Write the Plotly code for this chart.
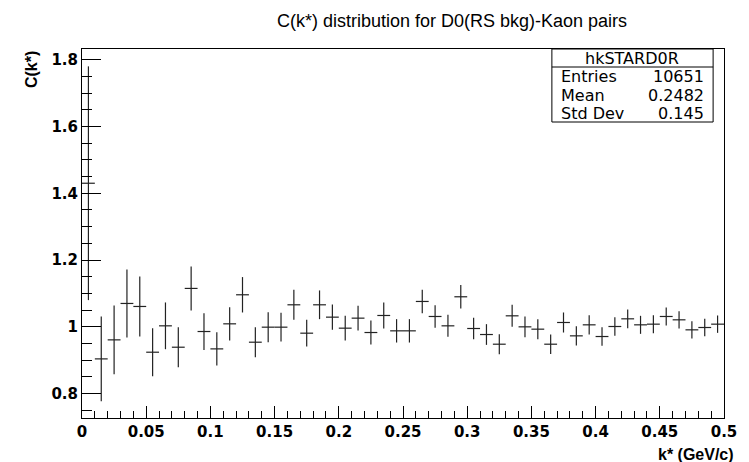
import plotly.graph_objects as go

# ---- data ----
k_star = [0.005 + 0.01 * i for i in range(50)]
c_vals = [1.43, 0.904, 0.961, 1.070, 1.061, 0.924, 1.003, 0.939, 1.115, 0.986,
          0.934, 1.009, 1.096, 0.954, 0.999, 0.999, 1.066, 0.981, 1.066, 1.029,
          0.996, 1.026, 0.983, 1.034, 0.988, 0.988, 1.076, 1.031, 1.003, 1.090,
          0.995, 0.977, 0.948, 1.033, 1.000, 0.993, 0.948, 1.013, 0.973, 1.006,
          0.971, 1.001, 1.024, 1.006, 1.008, 1.031, 1.021, 0.991, 0.998, 1.008]
c_errs = [0.35, 0.127, 0.103, 0.102, 0.090, 0.072, 0.070, 0.060, 0.066, 0.055,
          0.050, 0.050, 0.053, 0.045, 0.045, 0.043, 0.045, 0.040, 0.043, 0.038,
          0.037, 0.037, 0.036, 0.039, 0.035, 0.035, 0.035, 0.034, 0.033, 0.035,
          0.032, 0.031, 0.030, 0.033, 0.031, 0.030, 0.029, 0.030, 0.029, 0.029,
          0.028, 0.028, 0.028, 0.027, 0.027, 0.027, 0.026, 0.026, 0.026, 0.026]
x_tickvals = [0, 0.05, 0.1, 0.15, 0.2, 0.25, 0.3, 0.35, 0.4, 0.45, 0.5]
x_ticktext = ["0", "0.05", "0.1", "0.15", "0.2", "0.25", "0.3", "0.35", "0.4", "0.45", "0.5"]
y_tickvals = [0.8, 1.0, 1.2, 1.4, 1.6, 1.8]
y_ticktext = ["0.8", "1", "1.2", "1.4", "1.6", "1.8"]
stats_name = "hkSTARD0R"
stats_labels = ["Entries", "Mean", "Std Dev"]
stats_values = ["10651", "0.2482", "0.145"]
title_text = "C(k*) distribution for D0(RS bkg)-Kaon pairs"

W, H = 749, 462
L, R, T, B = 82, 18, 49, 44
pw, ph = W - L - R, H - T - B

def px_x(p):
    return (p - L) / pw

def px_y(p):
    return (H - B - p) / ph

tickf = dict(family="DejaVu Sans", size=15, color="black", weight="bold")
axtf = dict(family="Liberation Sans", size=16, color="black", weight="bold")

fig = go.Figure()
fig.add_trace(go.Scatter(
    x=k_star, y=c_vals, mode="markers",
    marker=dict(size=1, color="rgba(0,0,0,0)"),
    error_x=dict(type="constant", value=0.005, width=0, thickness=1.2, color="#222"),
    error_y=dict(type="data", array=c_errs, width=0, thickness=1.2, color="#222"),
    showlegend=False, hoverinfo="skip",
))

fig.update_layout(
    width=W, height=H,
    margin=dict(l=L, r=R, t=T, b=B),
    paper_bgcolor="white", plot_bgcolor="white",
    title=dict(text=title_text, x=452 / W, xanchor="center", xref="container",
               y=1 - 21 / H, yanchor="middle",
               font=dict(family="Liberation Sans", size=18, color="black")),
    xaxis=dict(range=[0, 0.5], tickvals=x_tickvals, ticktext=x_ticktext,
               ticks="inside", ticklen=12, tickwidth=1, tickcolor="black",
               minor=dict(ticks="inside", ticklen=7, dtick=0.01, tickcolor="black"),
               showgrid=False, zeroline=False, showline=True, linecolor="black",
               linewidth=1, mirror=True, tickfont=tickf),
    yaxis=dict(range=[0.727, 1.832], tickvals=y_tickvals, ticktext=y_ticktext,
               ticks="inside", ticklen=19, tickwidth=1, tickcolor="black",
               minor=dict(ticks="inside", ticklen=10, dtick=0.05, tickcolor="black"),
               showgrid=False, zeroline=False, showline=True, linecolor="black",
               linewidth=1, mirror=True, tickfont=tickf),
)

# axis titles (ROOT style: at axis ends)
fig.add_annotation(text="C(k*)", xref="paper", yref="paper",
                   x=px_x(31), y=px_y(49), xanchor="center", yanchor="top",
                   textangle=-90, showarrow=False, font=axtf)
fig.add_annotation(text="k* (GeV/c)", xref="paper", yref="paper",
                   x=px_x(743), y=px_y(454), xanchor="right", yanchor="middle",
                   showarrow=False, font=axtf)

# stats box
bx0, bx1, by0, by1, hy = px_x(557), px_x(720), px_y(122), px_y(49), px_y(67)
fig.add_shape(type="rect", xref="paper", yref="paper", x0=bx0, x1=bx1, y0=by0, y1=by1,
              line=dict(color="black", width=1), fillcolor="white", layer="above")
fig.add_shape(type="line", xref="paper", yref="paper", x0=bx0, x1=bx1, y0=hy, y1=hy,
              line=dict(color="black", width=1), layer="above")
sfont = dict(family="DejaVu Sans", size=16, color="black")
fig.add_annotation(text=stats_name, xref="paper", yref="paper",
                   x=(bx0 + bx1) / 2, y=px_y(58), xanchor="center", yanchor="middle",
                   showarrow=False, font=sfont)
for i, (lab, val) in enumerate(zip(stats_labels, stats_values)):
    yy = px_y(77 + 18.3 * i)
    fig.add_annotation(text=lab, xref="paper", yref="paper", x=px_x(564), y=yy,
                       xanchor="left", yanchor="middle", showarrow=False, font=sfont)
    fig.add_annotation(text=val, xref="paper", yref="paper", x=px_x(713), y=yy,
                       xanchor="right", yanchor="middle", showarrow=False, font=sfont)

fig.write_html("out.html")
